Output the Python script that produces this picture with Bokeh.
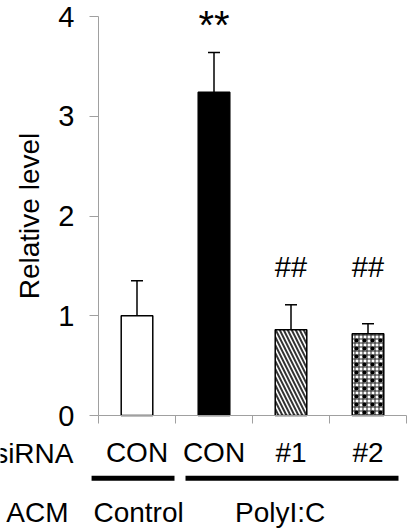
from bokeh.plotting import figure
from bokeh.models import (ColumnDataSource, Range1d, LinearAxis, FixedTicker,
                          Whisker, TeeHead)
from bokeh.core.properties import value
from bokeh.embed import file_html
from bokeh.resources import INLINE

# ---- data ----
groups = ["CON", "CON", "#1", "#2"]
values = [1.00, 3.24, 0.86, 0.82]
errors = [0.35, 0.40, 0.25, 0.10]
marks = ["", "**", "##", "##"]
acm_labels = ["Control", "PolyI:C"]
y_ticks = [0, 1, 2, 3, 4]

FONT = value("Liberation Sans")
x_pos = [i + 0.5 for i in range(len(groups))]

p = figure(width=419, height=531, output_backend="svg", toolbar_location=None,
           x_range=Range1d(-1.2727, 4.1688), y_range=Range1d(-1.1629, 4.1604),
           min_border=0, x_axis_location=None, y_axis_location=None)
p.outline_line_color = None
p.xgrid.visible = False
p.ygrid.visible = False
p.background_fill_color = "white"
p.border_fill_color = "white"

AX = "#a0a0a0"
yax = LinearAxis(fixed_location=0, bounds=(0, 4), ticker=FixedTicker(ticks=y_ticks),
                 axis_line_color=AX, major_tick_line_color=AX, minor_tick_line_color=None,
                 major_tick_out=9, major_tick_in=0,
                 major_label_text_font="Liberation Sans", major_label_text_font_size="29px",
                 major_label_text_color="black", major_label_standoff=15,
                 axis_label="Relative level", axis_label_text_font="Liberation Sans",
                 axis_label_text_font_size="28px", axis_label_text_font_style="normal",
                 axis_label_text_color="black", axis_label_standoff=10)
p.add_layout(yax, "left")

xax = LinearAxis(fixed_location=0, bounds=(0, 4),
                 ticker=FixedTicker(ticks=x_pos, minor_ticks=[0, 1, 2, 3, 4]),
                 axis_line_color=AX, major_tick_line_color=None,
                 minor_tick_line_color=AX, minor_tick_out=8, minor_tick_in=0,
                 major_tick_out=0, major_tick_in=0,
                 major_label_overrides={x: g for x, g in zip(x_pos, groups)},
                 major_label_text_font="Liberation Sans", major_label_text_font_size="28px",
                 major_label_text_color="black", major_label_standoff=13)
p.add_layout(xax, "below")

W = 0.41
fills = ["white", "black", "white", "white"]
for i in range(4):
    src = ColumnDataSource(dict(x=[x_pos[i]], top=[values[i]]))
    if i == 2:
        p.vbar(x="x", top="top", bottom=0, width=W, source=src, fill_color="white",
               line_color="black", line_width=1.5, hatch_pattern="left_diagonal_line",
               hatch_color="#333333", hatch_scale=8, hatch_weight=2)
    elif i == 3:
        p.vbar(x="x", top="top", bottom=0, width=W, source=src, fill_color="white",
               line_color=None, hatch_pattern="cross",
               hatch_color="#222222", hatch_scale=4, hatch_weight=1)
        p.vbar(x="x", top="top", bottom=0, width=W, source=src, fill_alpha=0,
               line_color="black", line_width=1.5, hatch_pattern="dot",
               hatch_color="black", hatch_scale=8, hatch_weight=3)
    else:
        p.vbar(x="x", top="top", bottom=0, width=W, source=src, fill_color=fills[i],
               line_color="black", line_width=1.5)

esrc = ColumnDataSource(dict(x=x_pos, lo=[v - e for v, e in zip(values, errors)],
                             hi=[v + e for v, e in zip(values, errors)]))
p.add_layout(Whisker(base="x", lower="lo", upper="hi", source=esrc, line_width=1.5,
                     line_color="black",
                     upper_head=TeeHead(size=12, line_width=1.5, line_color="black"),
                     lower_head=TeeHead(size=12, line_width=1.5, line_color="black")))

# significance marks
p.text(x=[x_pos[1]], y=[3.913], text=[marks[1]], text_font=FONT, text_font_size="40px",
       text_align="center", text_baseline="middle", text_color="black")
p.text(x=x_pos[2:], y=[1.484, 1.484], text=marks[2:], text_font=FONT, text_font_size="29px",
       text_align="center", text_baseline="middle", text_color="black")

# siRNA row label
p.text(x=[-0.325], y=[-0.384], text=["siRNA"], text_font=FONT, text_font_size="28px",
       text_align="right", text_baseline="middle", text_color="black")

# group bars
p.segment(x0=[-0.09, 1.13], y0=[-0.63, -0.63], x1=[0.987, 3.896], y1=[-0.63, -0.63],
          line_color="black", line_width=5, line_cap="butt")

# ACM row
p.text(x=[0.52, 2.36], y=[-0.975, -0.975], text=acm_labels, text_font=FONT,
       text_font_size="28px", text_align="center", text_baseline="middle",
       text_color="black")
p.text(x=[-0.39], y=[-0.975], text=["ACM"], text_font=FONT, text_font_size="28px",
       text_align="right", text_baseline="middle", text_color="black")

open("out.html", "w").write(file_html(p, INLINE))
